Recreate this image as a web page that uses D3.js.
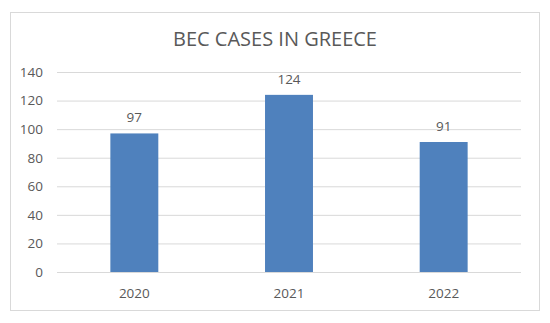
<!DOCTYPE html>
<html><head><meta charset="utf-8">
<script src="https://cdn.jsdelivr.net/npm/d3@7"></script>
<style>
html,body{margin:0;padding:0;background:#fff;}
svg{display:block;}
text{font-family:"Open Sans","Liberation Sans",sans-serif;fill:#595959;}
</style></head>
<body>
<svg id="c" width="550" height="323"></svg>
<script>
const title = "BEC CASES IN GREECE";
const categories = ["2020", "2021", "2022"];
const values = [97, 124, 91];
const yTicks = [0, 20, 40, 60, 80, 100, 120, 140];

(function () {
const svg = d3.select("#c");
svg.append("rect").attr("x", 10.5).attr("y", 12.5).attr("width", 529).attr("height", 298)
  .attr("fill", "#fff").attr("stroke", "#d9d9d9").attr("stroke-width", 1);

const mLeft = 57, mRight = 521, mTop = 72, mBottom = 272;
const x = d3.scaleBand().domain(categories).range([mLeft, mRight]).paddingInner(0.69).paddingOuter(0.345);
const y = d3.scaleLinear().domain([0, 140]).range([mBottom, mTop]);

svg.append("text").attr("x", 275).attr("y", 46).attr("text-anchor", "middle")
  .style("font-size", "20px").text(title);

const yAxis = svg.append("g").attr("transform", `translate(${mLeft},0)`)
  .call(d3.axisLeft(y).tickValues(yTicks).tickSize(-(mRight - mLeft)).tickPadding(14));
yAxis.select(".domain").remove();
yAxis.selectAll(".tick line").attr("stroke", "#d9d9d9");
yAxis.selectAll(".tick text").style("font-size", "13.5px").attr("fill", "#595959");

svg.append("g").selectAll("rect").data(values).join("rect")
  .attr("x", (d, i) => x(categories[i])).attr("width", x.bandwidth())
  .attr("y", d => y(d)).attr("height", d => y(0) - y(d)).attr("fill", "#4f81bd");

svg.append("g").selectAll("text").data(values).join("text")
  .attr("x", (d, i) => x(categories[i]) + x.bandwidth() / 2).attr("y", d => y(d) - 11)
  .attr("text-anchor", "middle").style("font-size", "13.5px").text(d => d);

const xAxis = svg.append("g").attr("transform", `translate(0,${mBottom})`)
  .call(d3.axisBottom(x).tickSize(0).tickPadding(16));
xAxis.select(".domain").remove();
xAxis.selectAll(".tick text").style("font-size", "13.5px").attr("fill", "#595959");
})();
</script>
</body></html>
